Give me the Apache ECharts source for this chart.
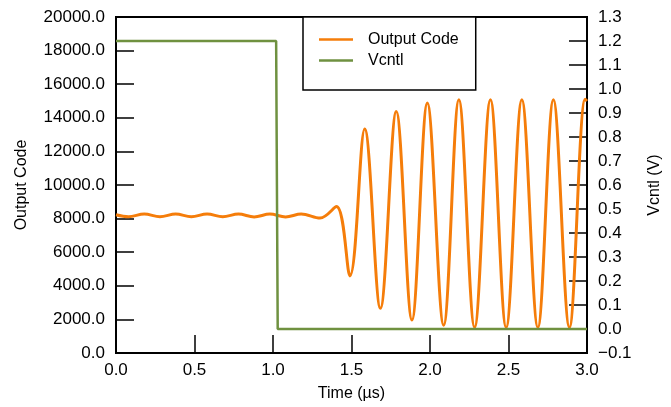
<!DOCTYPE html>
<html><head><meta charset="utf-8">
<script src="https://cdn.jsdelivr.net/npm/echarts@6/dist/echarts.min.js"></script>
<style>html,body{margin:0;padding:0;background:#fff}#c{width:671px;height:407px}</style>
</head><body><div id="c"></div>
<script>
// Output Code samples at the turning points (time in µs, code value)
var codeTime = [0.00,0.08,0.18,0.28,0.38,0.48,0.58,0.68,0.78,0.88,0.98,1.08,1.18,1.30,1.404,1.49,1.584,1.684,1.785,1.885,1.983,2.087,2.184,2.284,2.385,2.485,2.585,2.687,2.786,2.888,2.988,3.00];
var codeValue = [8230,8110,8280,8110,8280,8110,8280,8110,8270,8100,8270,8100,8270,8030,8720,4590,13330,2660,14380,1970,14880,1650,15080,1530,15080,1520,15080,1520,15080,1520,15100,15000];
// Vcntl samples (time in µs, volts)
var vTime = [0.00,1.02,1.03,3.00];
var vValue = [1.2,1.2,0.0,0.0];
// axis ranges / ticks
var xTicks = [0,3,0.5];
var leftTicks = [0,20000,2000];
var rightTicks = [-0.1,1.3,0.1];
var seriesNames = ['Output Code','Vcntl'];

var font = "'Liberation Sans', Arial, sans-serif";
function zip(a,b){return a.map(function(v,i){return [v,b[i]];});}
var chart = echarts.init(document.getElementById('c'));
var axisLine = {show:true,lineStyle:{color:'#000',width:2}};
var tick = {show:true,inside:true,length:18,lineStyle:{color:'#000',width:1.5}};
var fs = 17;
chart.setOption({
  animation:false,
  textStyle:{fontFamily:font},
  grid:{left:116,right:83,top:17,bottom:54,show:true,borderColor:'#000',borderWidth:2,backgroundColor:'transparent'},
  legend:{
    orient:'vertical',left:303,top:17,
    data:seriesNames,
    icon:'rect',itemWidth:34,itemHeight:2.5,itemGap:0,
    padding:[12,17,19,16],
    borderColor:'#000',borderWidth:1.5,backgroundColor:'#fff',
    textStyle:{fontFamily:font,fontSize:16,color:'#000',lineHeight:21,padding:[0,0,0,10]}
  },
  xAxis:{type:'value',min:xTicks[0],max:xTicks[1],interval:xTicks[2],
    name:'Time (µs)',nameLocation:'middle',nameGap:33,
    nameTextStyle:{fontFamily:font,fontSize:16,color:'#000'},
    axisLine:axisLine,axisTick:tick,splitLine:{show:false},
    axisLabel:{fontFamily:font,fontSize:fs,color:'#000',margin:9,formatter:function(v){return v.toFixed(1);}}
  },
  yAxis:[
    {type:'value',min:leftTicks[0],max:leftTicks[1],interval:leftTicks[2],position:'left',
     name:'Output Code',nameLocation:'middle',nameGap:86,nameRotate:90,
     nameTextStyle:{fontFamily:font,fontSize:16,color:'#000'},
     axisLine:axisLine,axisTick:tick,splitLine:{show:false},
     axisLabel:{fontFamily:font,fontSize:fs,color:'#000',margin:11,formatter:function(v){return v.toFixed(1);}}
    },
    {type:'value',min:rightTicks[0],max:rightTicks[1],interval:rightTicks[2],position:'right',
     name:'Vcntl (V)',nameLocation:'middle',nameGap:60,nameRotate:90,
     nameTextStyle:{fontFamily:font,fontSize:16,color:'#000'},
     axisLine:axisLine,axisTick:tick,splitLine:{show:false},
     axisLabel:{fontFamily:font,fontSize:fs,color:'#000',margin:11,formatter:function(v){var s=v.toFixed(1);return s.charAt(0)==='-'?'\u2212'+s.slice(1):s;}}
    }
  ],
  series:[
    {name:seriesNames[0],type:'line',yAxisIndex:0,data:zip(codeTime,codeValue),smooth:0.36,showSymbol:false,
     lineStyle:{color:'#f57d0a',width:3},itemStyle:{color:'#f57d0a'}},
    {name:seriesNames[1],type:'line',yAxisIndex:1,data:zip(vTime,vValue),showSymbol:false,
     lineStyle:{color:'#6f9140',width:2.5},itemStyle:{color:'#6f9140'}}
  ]
});
</script></body></html>
